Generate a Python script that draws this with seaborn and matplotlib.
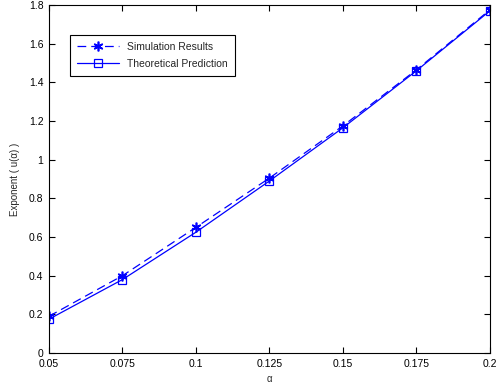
import matplotlib
matplotlib.use("Agg")
import matplotlib.pyplot as plt
import seaborn as sns
import pandas as pd

alpha_vals = [0.05, 0.075, 0.1, 0.125, 0.15, 0.175, 0.2]
sim_results = [0.19, 0.40, 0.65, 0.905, 1.175, 1.465, 1.775]
theory_pred = [0.175, 0.38, 0.625, 0.89, 1.165, 1.46, 1.77]
x_ticks = [0.05, 0.075, 0.1, 0.125, 0.15, 0.175, 0.2]
x_tick_labels = ["0.05", "0.075", "0.1", "0.125", "0.15", "0.175", "0.2"]
y_ticks = [0, 0.2, 0.4, 0.6, 0.8, 1, 1.2, 1.4, 1.6, 1.8]
y_tick_labels = ["0", "0.2", "0.4", "0.6", "0.8", "1", "1.2", "1.4", "1.6", "1.8"]

sns.set_style("ticks")
plt.rcParams["font.family"] = ["Liberation Sans", "DejaVu Sans"]

df = pd.DataFrame({"alpha": alpha_vals, "sim": sim_results, "theo": theory_pred})

fig = plt.figure(figsize=(4.98, 3.88), dpi=100)
ax = fig.add_axes([0.0984, 0.0902, 0.8855, 0.897])

blue = "#0000ff"
sns.lineplot(data=df, x="alpha", y="sim", ax=ax, color=blue, linestyle=(0, (7, 4)),
             marker=(6, 2, 0), markersize=7, markeredgecolor=blue, markerfacecolor=blue,
             markeredgewidth=1.2, linewidth=0.9, label="Simulation Results")
sns.lineplot(data=df, x="alpha", y="theo", ax=ax, color=blue, linestyle="-",
             marker="s", markersize=5.5, markeredgecolor=blue, markerfacecolor="none",
             markeredgewidth=0.9, linewidth=0.9, label="Theoretical Prediction")

ax.set_xlim(0.05, 0.2)
ax.set_ylim(0, 1.8)
ax.set_xticks(x_ticks)
ax.set_xticklabels(x_tick_labels)
ax.set_yticks(y_ticks)
ax.set_yticklabels(y_tick_labels)
ax.tick_params(direction="in", length=4, width=0.8, labelsize=7.5, colors="black",
               top=True, right=True, pad=4)
for s in ax.spines.values():
    s.set_visible(True)
    s.set_linewidth(0.8)
    s.set_color("black")
ax.set_xlabel("α", fontsize=7, labelpad=4)
ax.set_ylabel("Exponent ( u(α) )", fontsize=7, labelpad=6)

leg = ax.legend(loc="upper left", bbox_to_anchor=(0.035, 0.93), fontsize=7.5,
                frameon=True, fancybox=False, edgecolor="black", framealpha=1,
                handlelength=4, borderpad=0.7, labelspacing=0.7)
leg.get_frame().set_linewidth(0.8)

fig.savefig("out.png", dpi=100)
